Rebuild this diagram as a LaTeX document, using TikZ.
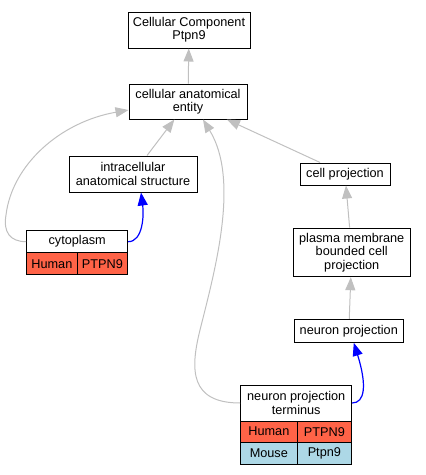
\documentclass[tikz,border=0pt]{standalone}
\usepackage{fontspec}
\setmainfont{Liberation Sans}
\usepackage{tikz}
\usetikzlibrary{arrows.meta}
\definecolor{tomato}{HTML}{FF6347}
\definecolor{lblue}{HTML}{ADD8E6}
\definecolor{edgegray}{HTML}{C0C0C0}
\tikzstyle{gobox} = [rectangle, draw=black, line width=1pt, fill=white, inner sep=0pt, align=center, font=\fontsize{12.7}{13.4}\selectfont]
\tikzstyle{human} = [gobox, fill=tomato]
\tikzstyle{mouse} = [gobox, fill=lblue]
\tikzstyle{isa} = [draw=edgegray, line width=1pt, -{Triangle[length=13pt,width=10pt]}]
\tikzstyle{partof} = [draw=blue, line width=1.2pt, -{Triangle[length=13pt,width=10pt]}]

\begin{document}
\begin{tikzpicture}[x=1pt,y=-1pt]
        \useasboundingbox (0,0) rectangle (426,475);
        \node[gobox,minimum width=122pt,minimum height=36pt] (top) at (189,30) {Cellular Component\\Ptpn9};
        \node[gobox,minimum width=118pt,minimum height=35pt] (cae) at (188,101.5) {cellular anatomical\\entity};
        \node[gobox,minimum width=128pt,minimum height=36pt] (ias) at (133,174) {intracellular\\anatomical structure};
        \node[gobox,minimum width=90pt,minimum height=22pt] (cp) at (345,174) {cell projection};
        \node[gobox,minimum width=117.5pt,minimum height=48.7pt] (pm) at (351.75,252.35) {plasma membrane\\bounded cell\\projection};
        \node[gobox,minimum width=109pt,minimum height=23pt] (np) at (348.8,330.8) {neuron projection};

        \node[gobox,minimum width=101pt,minimum height=22pt] (cyto) at (77.2,241.7) {cytoplasm};
        \node[human,minimum width=50.3pt,minimum height=22pt] (cytoH) at (51.85,263.7) {Human};
        \node[human,minimum width=50.7pt,minimum height=22pt] (cytoP) at (102.35,263.7) {PTPN9};

        \node[gobox,minimum width=111pt,minimum height=36pt] (npt) at (296.2,403) {neuron projection\\terminus};
        \node[human,minimum width=56.3pt,minimum height=21.3pt] (nptHH) at (268.85,431.65) {Human};
        \node[human,minimum width=54.7pt,minimum height=21.3pt] (nptHP) at (324.35,431.65) {PTPN9};
        \node[mouse,minimum width=56.3pt,minimum height=21.7pt] (nptMH) at (268.85,453.15) {Mouse};
        \node[mouse,minimum width=54.7pt,minimum height=21.7pt] (nptMP) at (324.35,453.15) {Ptpn9};

        \draw[isa] (cae) -- (top);
        \draw[isa] (ias) -- (cae);
        \draw[isa] (cp) -- (cae);
        \draw[isa] (pm) -- (cp);
        \draw[isa] (np) -- (pm);
        \draw[isa] (cyto.west) .. controls (10,241.7) and (3,232) .. (6,215) .. controls (12,165) and (60,122) .. ([yshift=-8.5pt]cae.west);
        \draw[partof] (cyto.east) .. controls (143,241.7) and (144,215) .. ([xshift=8pt]ias.south);
        \draw[isa] (npt.west) .. controls (190,403) and (190,370) .. (200,330) .. controls (215,270) and (240,180) .. ([xshift=15pt]cae.south);
        \draw[partof] (npt.east) .. controls (365,403) and (367,385) .. ([xshift=5pt]np.south);
    \end{tikzpicture}
\end{document}
